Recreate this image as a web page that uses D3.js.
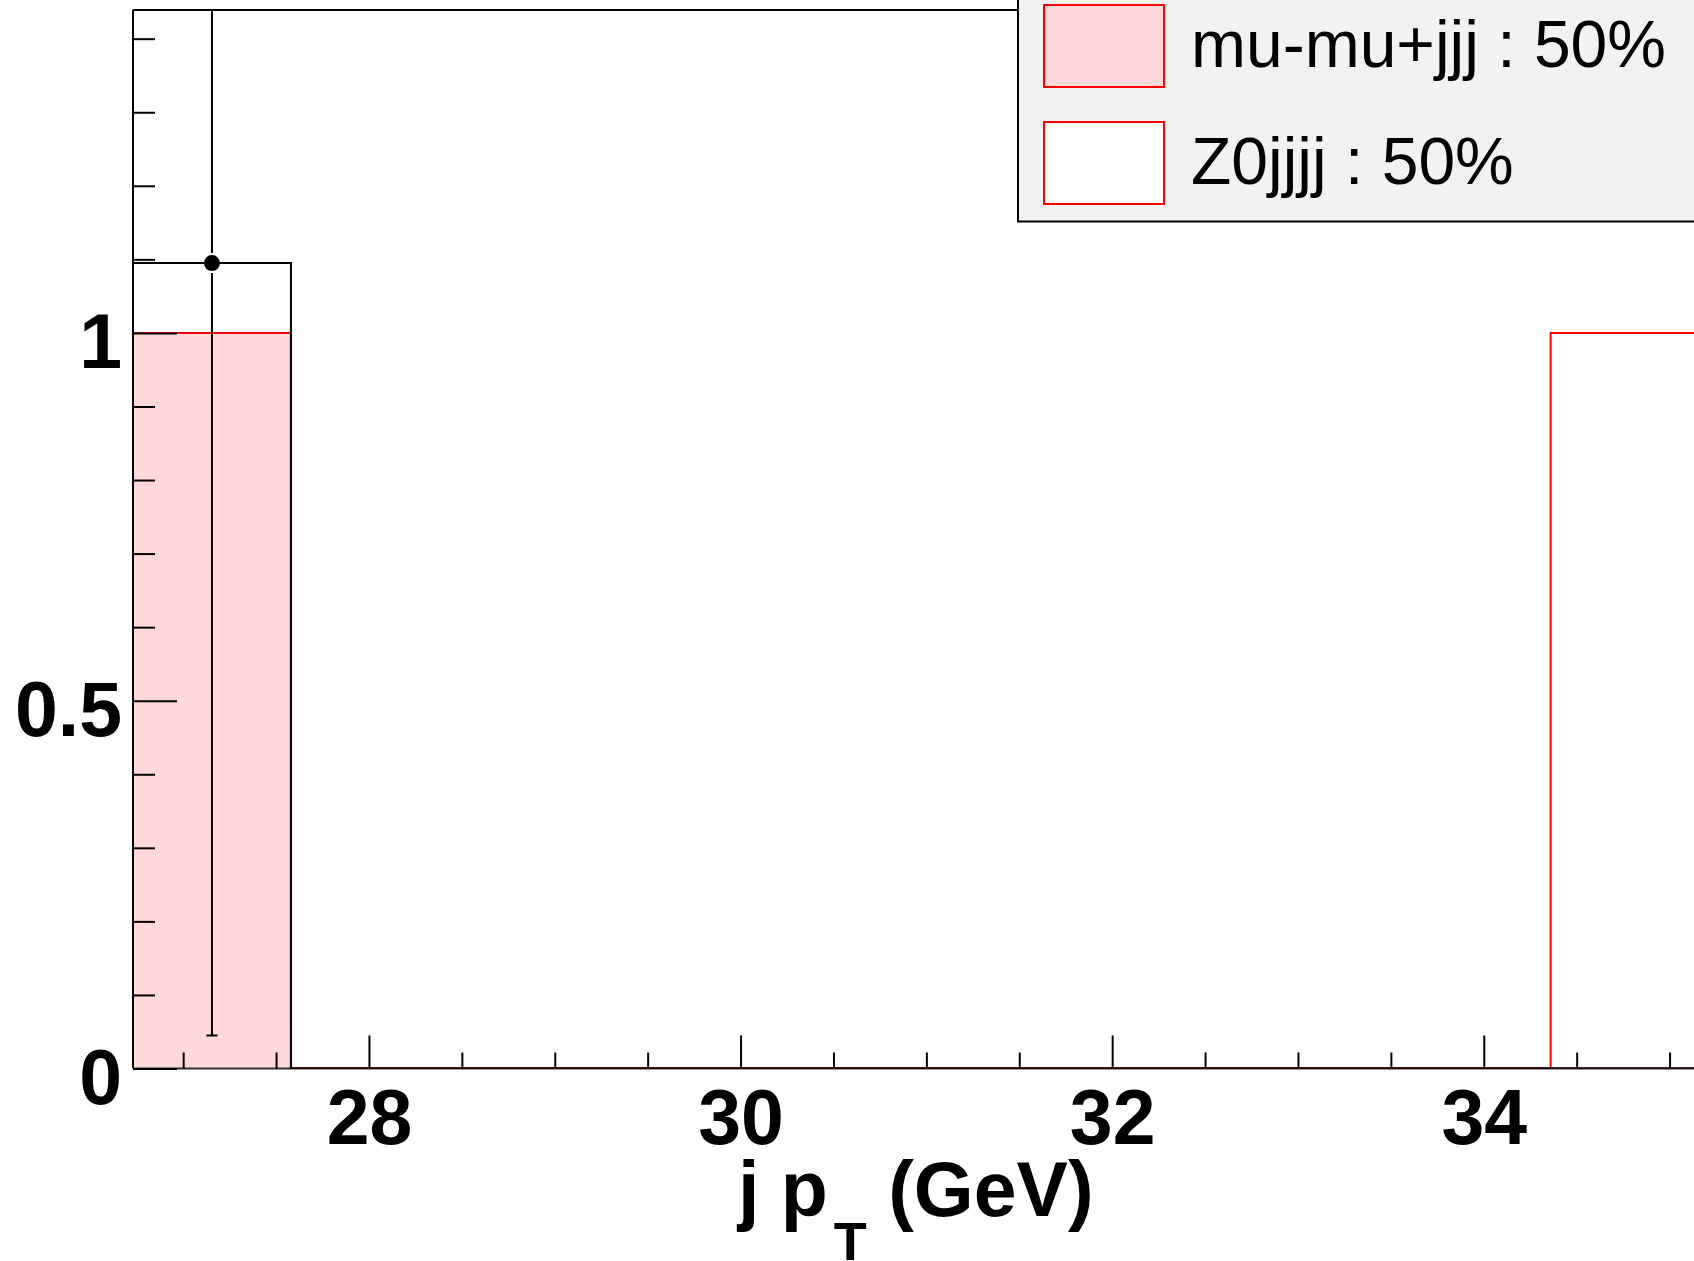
<!DOCTYPE html>
<html>
<head>
<meta charset="utf-8">
<script src="https://cdn.jsdelivr.net/npm/d3@7"></script>
<style>
  html, body { margin: 0; padding: 0; background: #ffffff; }
  svg { display: block; }
  text { font-family: "Liberation Sans", Arial, Helvetica, sans-serif; }
</style>
</head>
<body>
<svg id="chart" width="1694" height="1261"></svg>
<script>
// Histogram binning: jet pT (GeV)
const binEdges = [26.73, 27.58, 28.43, 29.27, 30.12, 30.97, 31.82, 32.66, 33.51, 34.36, 35.21];
// Stacked MC components
const muMuJjj = [1, 0, 0, 0, 0, 0, 0, 0, 0, 0];
const z0Jjjj  = [0, 0, 0, 0, 0, 0, 0, 0, 0, 1];
// Data points with errors
const dataValues = [1.095, 0, 0, 0, 0, 0, 0, 0, 0, 0];
const dataErrors = [1.05, 0, 0, 0, 0, 0, 0, 0, 0, 0];
// Axis ticks and labels
const xMajorTicks = [28, 30, 32, 34];
const yMajorTicks = [0, 0.5, 1];
const yMax = 1.439;
const legendEntries = ["mu-mu+jjj : 50%", "Z0jjjj : 50%"];
const xTitle = ["j p", "T", " (GeV)"];

const W = 1694, H = 1261;
const padLeft = 133, padTop = 10, padBottom = 1068.5;
const pxPerUnit = 185.8;
const padRight = padLeft + (binEdges[binEdges.length - 1] - binEdges[0]) * pxPerUnit;

const svg = d3.select("#chart");
svg.append("rect").attr("width", W).attr("height", H).attr("fill", "#ffffff");

const x = d3.scaleLinear().domain([binEdges[0], binEdges[binEdges.length - 1]]).range([padLeft, padRight]);
const y = d3.scaleLinear().domain([0, yMax]).range([padBottom, padTop]);

svg.append("clipPath").attr("id", "plotClip")
  .append("rect").attr("x", padLeft).attr("y", padTop)
  .attr("width", padRight - padLeft).attr("height", padBottom - padTop);

const plot = svg.append("g").attr("clip-path", "url(#plotClip)");

// step outline of a histogram (starting and ending on zero)
function stepPoints(vals) {
  const pts = [[binEdges[0], 0]];
  vals.forEach((v, i) => { pts.push([binEdges[i], v]); pts.push([binEdges[i + 1], v]); });
  pts.push([binEdges[binEdges.length - 1], 0]);
  return pts;
}
const line = d3.line().x(d => x(d[0])).y(d => y(d[1]));
const area = d3.area().x(d => x(d[0])).y0(y(0)).y1(d => y(d[1]));

// stacked totals
const stackTop = muMuJjj.map((v, i) => v + z0Jjjj[i]);

// Z0jjjj (white fill, drawn as top of stack)
plot.append("path").datum(stepPoints(stackTop)).attr("d", area).attr("fill", "#ffffff");
plot.append("path").datum(stepPoints(stackTop)).attr("d", line)
  .attr("fill", "none").attr("stroke", "#ff0000").attr("stroke-width", 2);

// mu-mu+jjj (pink fill)
plot.append("path").datum(stepPoints(muMuJjj)).attr("d", area).attr("fill", "#ffd9d9");
plot.append("path").datum(stepPoints(muMuJjj)).attr("d", line)
  .attr("fill", "none").attr("stroke", "#ff0000").attr("stroke-width", 2);

// data histogram outline
plot.append("path").datum(stepPoints(dataValues)).attr("d", line)
  .attr("fill", "none").attr("stroke", "#000000").attr("stroke-width", 2);

// data points with error bars
const r = 8;
const pts = dataValues.map((v, i) => ({ c: (binEdges[i] + binEdges[i + 1]) / 2, v, e: dataErrors[i] }))
  .filter(d => d.v > 0);
const eb = plot.selectAll("g.pt").data(pts).join("g").attr("class", "pt");
eb.append("line")
  .attr("x1", d => x(d.c)).attr("x2", d => x(d.c))
  .attr("y1", d => y(d.v + d.e)).attr("y2", d => y(d.v) - r - 2)
  .attr("stroke", "#000").attr("stroke-width", 2);
eb.append("line")
  .attr("x1", d => x(d.c)).attr("x2", d => x(d.c))
  .attr("y1", d => y(d.v) + r + 2).attr("y2", d => y(d.v - d.e))
  .attr("stroke", "#000").attr("stroke-width", 2);
eb.append("line")
  .attr("x1", d => x(d.c) - 5.5).attr("x2", d => x(d.c) + 5.5)
  .attr("y1", d => y(d.v - d.e)).attr("y2", d => y(d.v - d.e))
  .attr("stroke", "#000").attr("stroke-width", 2);
eb.append("circle").attr("cx", d => x(d.c)).attr("cy", d => y(d.v)).attr("r", r).attr("fill", "#000");

// x axis ticks
const xMinor = d3.range(27, 35.5, 0.5).filter(t => !xMajorTicks.includes(t));
const xAxisMinor = d3.axisBottom(x).tickValues(xMinor).tickSizeInner(-16).tickSizeOuter(0).tickFormat("");
const xAxisMajor = d3.axisBottom(x).tickValues(xMajorTicks).tickSizeInner(-33).tickSizeOuter(0).tickFormat(d3.format("d"));
[xAxisMinor, xAxisMajor].forEach(ax => {
  const g = svg.append("g").attr("transform", `translate(0,${padBottom})`).call(ax);
  g.select(".domain").remove();
  g.selectAll(".tick line").attr("stroke", "#000").attr("stroke-width", 2);
  g.selectAll(".tick text")
    .attr("y", 75).attr("dy", null)
    .attr("font-size", 77).attr("font-weight", "bold").attr("fill", "#000");
});

// y axis ticks
const yMinor = d3.range(0.1, 1.45, 0.1).filter(t => Math.abs(t - 0.5) > 1e-6 && Math.abs(t - 1) > 1e-6);
const yAxisMinor = d3.axisLeft(y).tickValues(yMinor).tickSizeInner(-22).tickSizeOuter(0).tickFormat("");
const yAxisMajor = d3.axisLeft(y).tickValues(yMajorTicks).tickSizeInner(-44).tickSizeOuter(0).tickFormat(d3.format(""));
[yAxisMinor, yAxisMajor].forEach(ax => {
  const g = svg.append("g").attr("transform", `translate(${padLeft},0)`).call(ax);
  g.select(".domain").remove();
  g.selectAll(".tick line").attr("stroke", "#000").attr("stroke-width", 2);
  g.selectAll(".tick text")
    .attr("x", -11).attr("y", 35).attr("dy", null)
    .attr("text-anchor", "end")
    .attr("font-size", 77).attr("font-weight", "bold").attr("fill", "#000");
});

// frame
svg.append("line").attr("x1", padLeft).attr("x2", padRight).attr("y1", padTop).attr("y2", padTop)
  .attr("stroke", "#000").attr("stroke-width", 2);
svg.append("line").attr("x1", padLeft).attr("x2", padLeft).attr("y1", padTop).attr("y2", padBottom)
  .attr("stroke", "#000").attr("stroke-width", 2);
svg.append("line").attr("x1", padLeft).attr("x2", padRight).attr("y1", padBottom).attr("y2", padBottom)
  .attr("stroke", "#000").attr("stroke-opacity", 0.8).attr("stroke-width", 2);

// x axis title with subscript
const title = svg.append("text").attr("x", 738).attr("y", 1216)
  .attr("font-size", 77).attr("font-weight", "bold").attr("fill", "#000");
title.append("tspan").text(xTitle[0]);
title.append("tspan").attr("dx", 6).attr("dy", 44).attr("font-size", 54).text(xTitle[1]);
title.append("tspan").attr("dy", -44).text(xTitle[2]);

// legend
const leg = svg.append("g");
leg.append("rect").attr("x", 1018).attr("y", -20).attr("width", 720).attr("height", 241.5)
  .attr("fill", "#f2f2f2").attr("stroke", "#000").attr("stroke-width", 2);
const swatchFill = ["#ffd9d9", "#ffffff"];
const rowTop = [5, 122];
legendEntries.forEach((label, i) => {
  leg.append("rect").attr("x", 1044).attr("y", rowTop[i]).attr("width", 120).attr("height", 82)
    .attr("fill", swatchFill[i]).attr("stroke", "#ff0000").attr("stroke-width", 2);
  leg.append("text").attr("x", 1191).attr("y", rowTop[i] + 62)
    .attr("font-size", 66).attr("fill", "#000").text(label);
});
</script>
</body>
</html>
